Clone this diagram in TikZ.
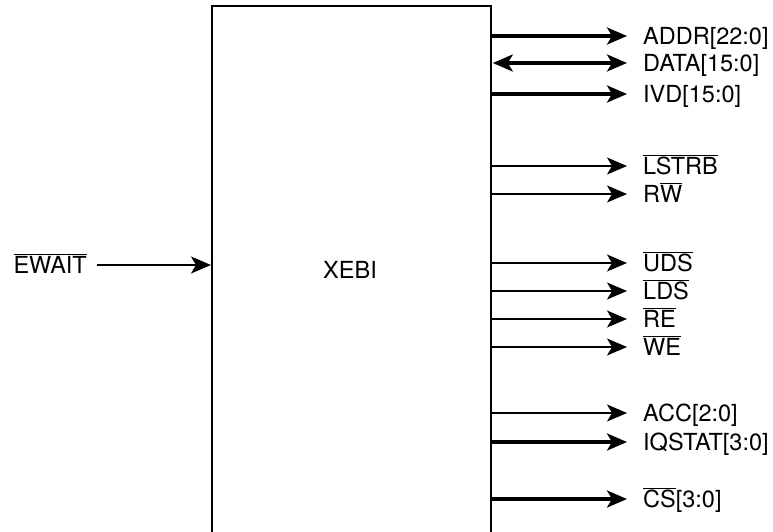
\documentclass[tikz,border=0pt]{standalone}
\usepackage{fontspec}
\setmainfont{TeX Gyre Heros}
\usetikzlibrary{arrows.meta}
\newcommand{\ovl}[1]{$\overline{\hbox{#1}}$}
\tikzset{
  hd/.tip={Stealth[length=20pt, width=17pt, inset=5pt]},
  lbl/.style={inner sep=0pt, font=\fontsize{23.5pt}{26pt}\selectfont, anchor=base west},
  sig/.style={line width=1.5pt, -hd},
  bus/.style={line width=3.2pt, -hd},
  biBus/.style={line width=3.2pt, hd-hd},
  blk/.style={draw, line width=1.8pt, minimum width=279pt, minimum height=560pt, anchor=north west, inner sep=0pt}
}
\begin{document}
\begin{tikzpicture}[x=1pt,y=1pt]
\useasboundingbox (0,0) rectangle (773,-531);
\node[blk] (xebi) at (211,-5) {};
\node[lbl, anchor=base] (name) at (350,-278) {XEBI};
% output labels (baseline = line y + 8)
\node[lbl] (addr) at (643,-44) {ADDR[22:0]};
\node[lbl] (data) at (643,-71) {DATA[15:0]};
\node[lbl] (ivd) at (643,-102) {IVD[15:0]};
\node[lbl] (lstrb) at (643,-174) {\ovl{LSTRB}};
\node[lbl] (rw) at (643,-202) {R\ovl{W}};
\node[lbl] (uds) at (643,-271) {\ovl{UDS}};
\node[lbl] (lds) at (643,-299) {\ovl{LDS}};
\node[lbl] (re) at (643,-327) {\ovl{RE}};
\node[lbl] (we) at (643,-355) {\ovl{WE}};
\node[lbl] (acc) at (643,-421) {ACC[2:0]};
\node[lbl] (iqstat) at (643,-450) {IQSTAT[3:0]};
\node[lbl] (cs) at (643,-507) {\ovl{CS}[3:0]};
\foreach \n/\s in {addr/bus, ivd/bus, lstrb/sig, rw/sig, uds/sig, lds/sig, re/sig, we/sig, acc/sig, iqstat/bus, cs/bus} {
  \draw[\s] ([yshift=8pt]xebi.east |- \n.base west) -- ([xshift=-16pt,yshift=8pt]\n.base west);
}
\draw[biBus] ([yshift=8pt,xshift=1pt]xebi.east |- data.base west) -- ([xshift=-16pt,yshift=8pt]data.base west);
% input
\node[lbl, anchor=base east] (ewait) at (87,-273) {\ovl{EWAIT}};
\draw[sig] ([xshift=10pt,yshift=8pt]ewait.base east) -- ([yshift=8pt]xebi.west |- ewait.base east);
\end{tikzpicture}
\end{document}
